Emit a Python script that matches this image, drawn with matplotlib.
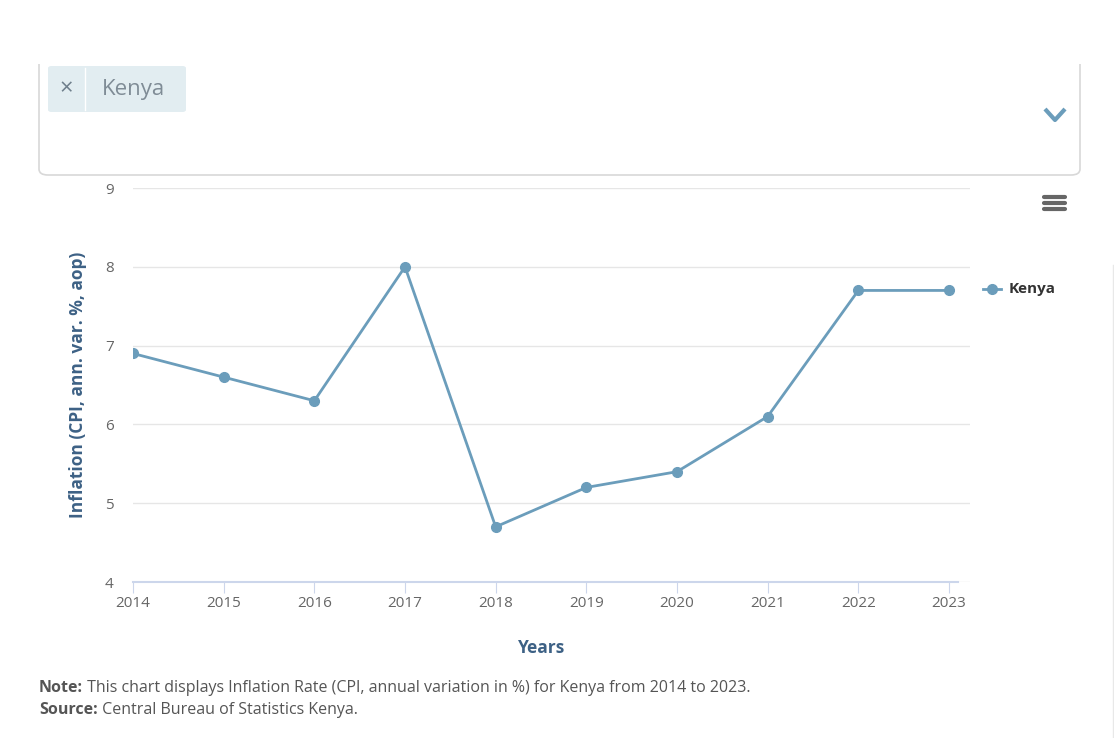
import matplotlib.pyplot as plt
from matplotlib.patches import FancyBboxPatch, Rectangle
from matplotlib.lines import Line2D

years = [2014, 2015, 2016, 2017, 2018, 2019, 2020, 2021, 2022, 2023]
inflation = [6.9, 6.6, 6.3, 8.0, 4.7, 5.2, 5.4, 6.1, 7.7, 7.7]
y_ticks = [4, 5, 6, 7, 8, 9]
series_name = "Kenya"

line_color = "#6b9dbb"
label_color = "#3d6185"
tick_color = "#666666"

plt.rcParams['font.family'] = ['Open Sans', 'DejaVu Sans']

W, H = 1114, 738
fig = plt.figure(figsize=(W / 100, H / 100), dpi=100)


def fx(px):
    return px / W


def fy(py):
    return 1 - py / H


# selector box at the top (its top edge is hidden under the page header)
box = FancyBboxPatch((fx(39), fy(175)), fx(1080 - 39), fy(20) - fy(175),
                     boxstyle="round,pad=0,rounding_size=0.008",
                     transform=fig.transFigure, fc="white", ec="#d8d8d8", lw=1.2)
fig.patches.append(box)
fig.patches.append(Rectangle((0, fy(64)), 1, 1 - fy(64), transform=fig.transFigure,
                             fc="white", ec="none", zorder=2))
tag = FancyBboxPatch((fx(48), fy(112)), fx(186 - 48), fy(66) - fy(112),
                     boxstyle="round,pad=0,rounding_size=0.003",
                     transform=fig.transFigure, fc="#e2edf1", ec="none", zorder=3)
fig.patches.append(tag)
fig.lines.append(Line2D([fx(85), fx(85)], [fy(68), fy(110)], transform=fig.transFigure,
                        color="white", lw=1, zorder=4))
fig.text(fx(66), fy(89), "\u00d7", fontsize=17, color="#6f7f8c", ha="center", va="center")
fig.text(fx(102), fy(89), "Kenya", fontsize=16, color="#7f8c96", ha="left", va="center")
# chevron
fig.lines.append(Line2D([fx(1045), fx(1055), fx(1065)], [fy(109), fy(120), fy(109)],
                        transform=fig.transFigure, color=line_color, lw=3,
                        solid_capstyle="butt"))
# hamburger menu
for py in [197, 203, 209]:
    fig.lines.append(Line2D([fx(1044), fx(1065)], [fy(py), fy(py)], transform=fig.transFigure,
                            color="#666666", lw=3, solid_capstyle="round"))
# faint page edge on the right
fig.lines.append(Line2D([fx(1112.5), fx(1112.5)], [fy(265), fy(738)], transform=fig.transFigure,
                        color="#e8e8e8", lw=1))

# chart area
ax = fig.add_axes([fx(133), fy(582), fx(970 - 133), fy(188) - fy(582)])
ax.plot(years, inflation, color=line_color, lw=2, marker="o", ms=7, zorder=3)
ax.set_xlim(2014, 2014 + (970 - 133) / ((949 - 133) / 9))
ax.set_ylim(4, 9)
ax.set_yticks(y_ticks)
ax.set_xticks(years)
ax.grid(axis="y", color="#e6e6e6", lw=1)
ax.set_axisbelow(True)
for s in ["top", "right", "left"]:
    ax.spines[s].set_visible(False)
ax.spines["bottom"].set_color("#ccd6eb")
ax.spines["bottom"].set_linewidth(1.5)
ax.spines["bottom"].set_bounds(2014, 2014 + (958 - 133) / ((949 - 133) / 9))
ax.tick_params(axis="y", length=0, pad=14, labelsize=11, labelcolor=tick_color)
ax.tick_params(axis="x", length=8, color="#ccd6eb", pad=2, labelsize=11, labelcolor=tick_color)

fig.text(fx(78), fy(385), "Inflation (CPI, ann. var. %, aop)", rotation=90, fontsize=12.5,
         fontweight="bold", color=label_color, ha="center", va="center")
fig.text(fx(542), fy(648), "Years", fontsize=12.5, fontweight="bold", color=label_color,
         ha="center", va="center")

# legend
fig.lines.append(Line2D([fx(983), fx(1001)], [fy(289), fy(289)], transform=fig.transFigure,
                        color=line_color, lw=2))
fig.lines.append(Line2D([fx(992)], [fy(289)], transform=fig.transFigure, color=line_color,
                        marker="o", ms=7, lw=0))
fig.text(fx(1009), fy(289), series_name, fontsize=11, fontweight="bold", color="#333333",
         ha="left", va="center")

# notes
t1 = fig.text(fx(39), fy(688), "Note:", fontsize=11.5, fontweight="bold", color="#555555",
              ha="left", va="center")
t2 = fig.text(fx(39), fy(710), "Source:", fontsize=11.5, fontweight="bold", color="#555555",
              ha="left", va="center")
fig.canvas.draw()
r = fig.canvas.get_renderer()
for t, py, msg in [(t1, 688, " This chart displays Inflation Rate (CPI, annual variation in %) for Kenya from 2014 to 2023."),
                   (t2, 710, " Central Bureau of Statistics Kenya.")]:
    bb = t.get_window_extent(r)
    fig.text(bb.x1 / W, fy(py), msg, fontsize=11.5, color="#555555", ha="left", va="center")

fig.savefig("out.png", dpi=100)
